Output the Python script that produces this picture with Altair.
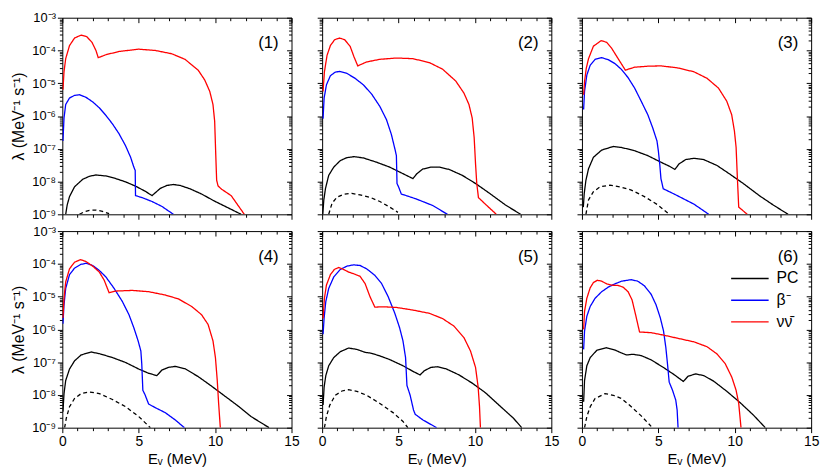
import altair as alt
import pandas as pd

# ---------------- data: E (MeV) and log10(lambda / MeV^-1 s^-1) ----------------
# panel (1)
p1_red_E = [0.04, 0.11, 0.22, 0.47, 0.8, 1.23, 1.6, 1.94, 2.2, 2.35, 2.85, 3.71, 5.0, 6.09, 7.16, 8.03, 8.89, 9.32, 9.65, 9.86, 9.97, 10.04, 10.10, 10.19, 10.41, 11.05, 11.91]
p1_red_L = [-5.2, -4.65, -4.25, -3.85, -3.62, -3.53, -3.58, -3.75, -4.0, -4.22, -4.13, -4.03, -3.96, -4.0, -4.10, -4.27, -4.60, -4.90, -5.25, -5.65, -6.16, -7.16, -7.96, -8.13, -8.23, -8.43, -9.0]
p1_blue_E = [0.04, 0.11, 0.22, 0.47, 0.8, 1.12, 1.55, 1.99, 2.42, 2.85, 3.28, 3.71, 4.14, 4.47, 4.68, 4.77, 4.79, 5.22, 5.87, 6.52, 7.27]
p1_blue_L = [-6.76, -6.06, -5.65, -5.45, -5.37, -5.35, -5.43, -5.57, -5.75, -5.98, -6.24, -6.54, -6.91, -7.26, -7.56, -7.66, -8.43, -8.49, -8.61, -8.76, -9.0]
p1_pc_E = [0.22, 0.32, 0.47, 0.8, 1.34, 1.77, 2.2, 2.85, 3.5, 4.14, 4.79, 5.44, 5.87, 6.09, 6.41, 6.84, 7.27, 7.71, 8.35, 9.11, 9.97, 10.84, 11.7]
p1_pc_L = [-9.0, -8.71, -8.46, -8.16, -7.93, -7.84, -7.80, -7.83, -7.91, -8.01, -8.14, -8.30, -8.43, -8.34, -8.21, -8.12, -8.09, -8.12, -8.22, -8.38, -8.60, -8.80, -9.0]
p1_dash_E = [1.12, 1.45, 1.77, 2.2, 2.63, 3.06]
p1_dash_L = [-9.0, -8.92, -8.88, -8.87, -8.91, -8.98]

# panel (2)
p2_red_E = [0.06, 0.15, 0.32, 0.54, 0.82, 1.14, 1.47, 1.83, 2.09, 2.33, 2.91, 3.78, 4.86, 5.94, 7.02, 7.88, 8.74, 9.28, 9.61, 9.82, 9.95, 10.04, 10.12, 10.23, 10.68, 11.4]
p2_red_L = [-5.25, -4.65, -4.15, -3.85, -3.67, -3.62, -3.67, -3.87, -4.20, -4.47, -4.35, -4.27, -4.23, -4.25, -4.37, -4.57, -4.93, -5.30, -5.65, -6.06, -6.66, -7.46, -8.06, -8.49, -8.69, -9.0]
p2_blue_E = [0.06, 0.13, 0.28, 0.54, 0.86, 1.14, 1.62, 2.16, 2.70, 3.24, 3.78, 4.21, 4.53, 4.79, 4.86, 4.90, 5.0, 5.18, 6.15, 7.23, 8.2]
p2_blue_L = [-6.08, -5.45, -5.05, -4.77, -4.66, -4.64, -4.70, -4.85, -5.05, -5.33, -5.71, -6.11, -6.56, -7.06, -7.21, -8.06, -8.16, -8.38, -8.53, -8.73, -9.0]
p2_pc_E = [0.04, 0.11, 0.22, 0.43, 0.76, 1.19, 1.62, 2.09, 2.70, 3.56, 4.42, 5.29, 5.94, 6.2, 6.58, 7.12, 7.66, 8.31, 9.17, 10.04, 10.9, 11.98, 12.99]
p2_pc_L = [-9.0, -8.56, -8.21, -7.81, -7.56, -7.36, -7.27, -7.24, -7.28, -7.41, -7.56, -7.76, -7.91, -7.76, -7.62, -7.56, -7.56, -7.63, -7.81, -8.06, -8.34, -8.71, -9.0]
p2_dash_E = [0.43, 0.65, 0.97, 1.40, 1.94, 2.48, 3.13, 3.78, 4.42, 4.96]
p2_dash_L = [-9.0, -8.66, -8.48, -8.39, -8.36, -8.41, -8.48, -8.61, -8.78, -8.94]

# panel (3)
p3_red_E = [0.11, 0.17, 0.28, 0.43, 0.75, 1.25, 1.62, 1.94, 2.37, 2.84, 3.45, 4.31, 5.17, 6.25, 7.33, 8.19, 8.94, 9.48, 9.8, 9.98, 10.09, 10.17, 10.26, 10.82]
p3_red_L = [-5.35, -4.95, -4.55, -4.25, -3.87, -3.70, -3.75, -3.93, -4.25, -4.60, -4.51, -4.48, -4.47, -4.53, -4.65, -4.85, -5.15, -5.55, -5.96, -6.46, -6.96, -7.86, -8.78, -9.0]
p3_blue_E = [0.11, 0.17, 0.32, 0.54, 0.86, 1.29, 1.72, 2.16, 2.59, 3.02, 3.45, 3.88, 4.31, 4.63, 4.91, 5.0, 5.09, 5.17, 5.32, 6.03, 7.33, 8.3]
p3_blue_L = [-5.80, -5.25, -4.75, -4.45, -4.27, -4.22, -4.28, -4.40, -4.58, -4.83, -5.15, -5.55, -5.96, -6.36, -6.76, -7.06, -7.46, -7.91, -8.22, -8.38, -8.69, -9.0]
p3_pc_E = [0.09, 0.15, 0.26, 0.43, 0.75, 1.29, 2.05, 2.59, 3.45, 4.31, 5.17, 5.71, 6.08, 6.36, 6.79, 7.33, 7.97, 8.84, 9.7, 10.56, 11.64, 12.5, 13.49]
p3_pc_L = [-8.78, -8.36, -7.96, -7.61, -7.26, -7.04, -6.93, -6.96, -7.06, -7.21, -7.41, -7.53, -7.63, -7.46, -7.33, -7.29, -7.33, -7.51, -7.78, -8.06, -8.44, -8.71, -9.0]
p3_dash_E = [0.26, 0.43, 0.75, 1.19, 1.83, 2.48, 3.23, 4.09, 4.96, 5.71]
p3_dash_L = [-9.0, -8.56, -8.31, -8.16, -8.11, -8.16, -8.26, -8.46, -8.71, -9.0]

# panel (4)
p4_red_E = [0.04, 0.11, 0.22, 0.47, 0.8, 1.19, 1.55, 1.99, 2.42, 2.74, 3.06, 3.5, 4.58, 5.65, 6.73, 7.6, 8.46, 9.11, 9.54, 9.86, 10.02, 10.14, 10.23, 10.34]
p4_red_L = [-5.65, -5.05, -4.55, -4.15, -3.95, -3.87, -3.93, -4.07, -4.25, -4.50, -4.88, -4.83, -4.81, -4.85, -4.95, -5.07, -5.30, -5.55, -5.85, -6.35, -6.86, -7.56, -8.26, -9.0]
p4_blue_E = [0.04, 0.11, 0.22, 0.47, 0.8, 1.19, 1.55, 1.99, 2.42, 2.85, 3.39, 3.93, 4.36, 4.68, 4.96, 5.14, 5.2, 5.27, 5.4, 5.65, 6.09, 6.73, 7.38, 7.99]
p4_blue_L = [-5.83, -5.25, -4.75, -4.33, -4.13, -4.02, -3.98, -4.05, -4.20, -4.40, -4.75, -5.15, -5.55, -5.95, -6.35, -6.66, -7.06, -7.86, -7.98, -8.28, -8.39, -8.54, -8.76, -9.0]
p4_pc_E = [0.04, 0.11, 0.22, 0.47, 0.8, 1.23, 1.88, 2.42, 3.28, 4.14, 5.0, 5.65, 6.19, 6.52, 6.95, 7.38, 8.03, 8.89, 9.76, 10.62, 11.48, 12.35, 13.53]
p4_pc_L = [-8.51, -7.96, -7.56, -7.21, -6.96, -6.78, -6.69, -6.74, -6.86, -7.01, -7.21, -7.34, -7.41, -7.24, -7.16, -7.13, -7.20, -7.44, -7.73, -8.03, -8.33, -8.66, -9.0]
p4_dash_E = [0.15, 0.26, 0.47, 0.8, 1.23, 1.77, 2.42, 3.28, 4.14, 5.0, 5.76]
p4_dash_L = [-9.0, -8.71, -8.36, -8.11, -7.96, -7.91, -7.96, -8.14, -8.36, -8.66, -9.0]

# panel (5)
p5_red_E = [0.06, 0.15, 0.28, 0.54, 0.8, 1.08, 1.4, 1.73, 2.05, 2.48, 2.81, 3.13, 3.45, 3.99, 4.86, 5.94, 7.02, 7.88, 8.63, 9.28, 9.71, 10.04, 10.21, 10.3, 10.36]
p5_red_L = [-5.67, -5.05, -4.65, -4.33, -4.17, -4.11, -4.17, -4.25, -4.30, -4.38, -4.60, -5.0, -5.32, -5.31, -5.33, -5.41, -5.51, -5.67, -5.90, -6.25, -6.66, -7.16, -7.76, -8.36, -9.0]
p5_blue_E = [0.06, 0.13, 0.24, 0.43, 0.76, 1.19, 1.62, 2.05, 2.48, 2.91, 3.45, 3.89, 4.32, 4.75, 5.07, 5.29, 5.46, 5.55, 5.76, 5.98, 6.09, 6.58, 7.49]
p5_blue_L = [-6.15, -5.65, -5.15, -4.75, -4.40, -4.17, -4.07, -4.03, -4.05, -4.15, -4.35, -4.60, -5.0, -5.50, -5.95, -6.35, -6.86, -7.71, -8.01, -8.46, -8.59, -8.76, -9.0]
p5_pc_E = [0.06, 0.13, 0.24, 0.43, 0.76, 1.19, 1.73, 2.27, 2.81, 3.24, 3.78, 4.42, 5.29, 5.94, 6.41, 6.69, 7.12, 7.55, 8.09, 8.96, 9.82, 10.68, 11.76, 12.52, 13.06]
p5_pc_L = [-8.31, -7.76, -7.41, -7.11, -6.86, -6.68, -6.57, -6.61, -6.70, -6.73, -6.81, -6.92, -7.11, -7.28, -7.39, -7.26, -7.16, -7.14, -7.20, -7.39, -7.64, -7.93, -8.39, -8.71, -9.0]
p5_dash_E = [0.15, 0.28, 0.5, 0.86, 1.3, 1.73, 2.27, 2.91, 3.78, 4.64, 5.29, 5.61]
p5_dash_L = [-9.0, -8.66, -8.31, -8.01, -7.88, -7.84, -7.89, -8.01, -8.26, -8.54, -8.81, -9.0]

# panel (6)
p6_red_E = [0.11, 0.17, 0.32, 0.54, 0.75, 1.01, 1.29, 1.62, 1.94, 2.37, 2.69, 3.02, 3.28, 3.51, 3.77, 4.53, 5.39, 6.25, 7.33, 8.19, 8.84, 9.38, 9.81, 10.09, 10.26, 10.41]
p6_red_L = [-6.0, -5.45, -5.05, -4.73, -4.57, -4.50, -4.53, -4.61, -4.65, -4.66, -4.71, -4.85, -5.10, -5.55, -6.08, -6.10, -6.18, -6.27, -6.38, -6.53, -6.75, -7.05, -7.46, -7.86, -8.26, -9.0]
p6_blue_E = [0.11, 0.17, 0.32, 0.54, 0.86, 1.29, 1.72, 2.16, 2.59, 3.23, 3.66, 4.09, 4.53, 4.85, 5.13, 5.34, 5.49, 5.6, 5.71, 5.93, 6.14, 6.23, 6.29]
p6_blue_L = [-6.61, -6.05, -5.60, -5.30, -5.05, -4.85, -4.71, -4.61, -4.53, -4.48, -4.53, -4.67, -4.93, -5.25, -5.65, -6.05, -6.55, -7.06, -7.61, -7.86, -8.16, -8.46, -9.0]
p6_pc_E = [0.11, 0.17, 0.32, 0.54, 0.97, 1.62, 2.16, 2.59, 2.91, 3.34, 3.88, 4.53, 5.39, 6.03, 6.64, 6.94, 7.44, 7.97, 8.62, 9.48, 10.34, 11.21, 12.0]
p6_pc_L = [-8.21, -7.56, -7.11, -6.86, -6.64, -6.56, -6.63, -6.72, -6.78, -6.76, -6.80, -6.93, -7.18, -7.38, -7.59, -7.43, -7.36, -7.41, -7.58, -7.89, -8.23, -8.61, -9.0]
p6_dash_E = [0.17, 0.32, 0.54, 0.86, 1.51, 2.05, 2.59, 3.23, 3.88, 4.53]
p6_dash_L = [-9.0, -8.66, -8.36, -8.11, -7.96, -8.01, -8.11, -8.36, -8.64, -8.96]

PANEL_LABELS = ["(1)", "(2)", "(3)", "(4)", "(5)", "(6)"]
SERIES = ["PC₂", "PC", "β⁻", "νν̄"]          # drawing order (dashed first)
LEGEND_SERIES = ["PC", "β⁻", "νν̄"]
SERIES_COLORS = ["#000000", "#000000", "#0000ff", "#ff0000"]
SERIES_DASHES = [[4, 3], [1, 0], [1, 0], [1, 0]]
X_MAJOR = [0, 5, 10, 15]
X_MINOR = [1, 2, 3, 4, 6, 7, 8, 9, 11, 12, 13, 14]
Y_MAJOR = [1e-9, 1e-8, 1e-7, 1e-6, 1e-5, 1e-4, 1e-3]
Y_MINOR = [k * 10.0 ** e for e in range(-9, -3) for k in range(2, 10)]

curves = {
    1: [(p1_dash_E, p1_dash_L), (p1_pc_E, p1_pc_L), (p1_blue_E, p1_blue_L), (p1_red_E, p1_red_L)],
    2: [(p2_dash_E, p2_dash_L), (p2_pc_E, p2_pc_L), (p2_blue_E, p2_blue_L), (p2_red_E, p2_red_L)],
    3: [(p3_dash_E, p3_dash_L), (p3_pc_E, p3_pc_L), (p3_blue_E, p3_blue_L), (p3_red_E, p3_red_L)],
    4: [(p4_dash_E, p4_dash_L), (p4_pc_E, p4_pc_L), (p4_blue_E, p4_blue_L), (p4_red_E, p4_red_L)],
    5: [(p5_dash_E, p5_dash_L), (p5_pc_E, p5_pc_L), (p5_blue_E, p5_blue_L), (p5_red_E, p5_red_L)],
    6: [(p6_dash_E, p6_dash_L), (p6_pc_E, p6_pc_L), (p6_blue_E, p6_blue_L), (p6_red_E, p6_red_L)],
}

rows = []
for p, lst in curves.items():
    for s, (E, L) in zip(SERIES, lst):
        for k, (e, l) in enumerate(zip(E, L)):
            rows.append({"panel": p, "series": s, "E": e, "lam": 10.0 ** l, "order": k})
df = pd.DataFrame(rows)

frame = pd.DataFrame({"E": [0, 15], "lam": [1e-9, 1e-3]})

W, H = 232, 199
FONT = "Liberation Sans"
XS = alt.Scale(domain=[0, 15], nice=False, zero=False)
YS = alt.Scale(type="log", domain=[1e-9, 1e-3], nice=False)
YLABEL = "'10' + ['⁻⁹','⁻⁸','⁻⁷','⁻⁶','⁻⁵','⁻⁴','⁻³'][round(log(datum.value)/LN10)+9]"
XTITLE = "Eᵥ (MeV)"
YTITLE = "λ (MeV⁻¹ s⁻¹)"


def axis_layer(xaxis, yaxis):
    return alt.Chart(frame).mark_point(opacity=0).encode(
        x=alt.X("E:Q", scale=XS, axis=xaxis),
        y=alt.Y("lam:Q", scale=YS, axis=yaxis),
    )


def panel(i):
    left = i in (1, 4)
    bottom = i >= 4
    sub = df[df.panel == i]
    if i == 6:
        # wide line symbol drawn from a small nominal size, so rows stay compact
        leg = alt.Legend(orient="none", legendX=162, legendY=40, values=LEGEND_SERIES,
                         title=None, symbolType="M-3,0H3", symbolSize=160,
                         symbolStrokeWidth=1.3, labelFontSize=16, labelFont=FONT,
                         labelColor="black", rowPadding=6, labelOffset=19, padding=0)
    else:
        leg = None
    xa = alt.Axis(orient="bottom", values=X_MAJOR, labels=bottom, tickSize=5,
                  title=XTITLE if bottom else None, labelPadding=2, titlePadding=3)
    ya = alt.Axis(orient="left", values=Y_MAJOR, labels=left, tickSize=5, labelExpr=YLABEL,
                  title=YTITLE if left else None, labelPadding=2, titlePadding=5)
    lines = alt.Chart(sub).mark_line(strokeWidth=1.3, clip=True).encode(
        x=alt.X("E:Q", scale=XS, axis=xa),
        y=alt.Y("lam:Q", scale=YS, axis=ya),
        color=alt.Color("series:N", scale=alt.Scale(domain=SERIES, range=SERIES_COLORS), legend=leg),
        strokeDash=alt.StrokeDash("series:N", scale=alt.Scale(domain=SERIES, range=SERIES_DASHES), legend=None),
        order="order:Q",
    )
    label = alt.Chart(pd.DataFrame({"t": [PANEL_LABELS[i - 1]]})).mark_text(
        align="right", baseline="middle", fontSize=17, font=FONT, color="black"
    ).encode(x=alt.value(W - 13), y=alt.value(26), text="t:N")
    minor_lb = axis_layer(
        alt.Axis(orient="bottom", values=X_MINOR, labels=False, tickSize=3, title=None),
        alt.Axis(orient="left", values=Y_MINOR, labels=False, tickSize=3, title=None),
    )
    major_tr = axis_layer(
        alt.Axis(orient="top", values=X_MAJOR, labels=False, tickSize=5, offset=-5, title=None),
        alt.Axis(orient="right", values=Y_MAJOR, labels=False, tickSize=5, offset=-5, title=None),
    )
    minor_tr = axis_layer(
        alt.Axis(orient="top", values=X_MINOR, labels=False, tickSize=3, offset=-3, title=None),
        alt.Axis(orient="right", values=Y_MINOR, labels=False, tickSize=3, offset=-3, title=None),
    )
    return alt.layer(lines, label, minor_lb, major_tr, minor_tr).resolve_axis(
        x="independent", y="independent"
    ).properties(width=W, height=H)


chart = alt.concat(
    *[panel(i) for i in range(1, 7)],
    columns=3,
    spacing={"row": 17, "column": 31},
    bounds="flush",
).resolve_scale(color="independent", strokeDash="independent").properties(
    padding={"left": 2, "top": 0, "right": 2, "bottom": 0},
    background="white",
).configure_view(stroke="black", strokeWidth=1).configure_axis(
    labelFont=FONT, titleFont=FONT, labelColor="black", titleColor="black",
    tickColor="black", tickWidth=1, grid=False, domain=False, labelFlush=False,
    labelFontSize=13, titleFontSize=15, titleFontWeight="normal",
).configure_axisX(labelFontSize=14).configure_axisY(titleFontSize=16)

chart.save("out.html", embed_options={"renderer": "svg", "actions": False})
